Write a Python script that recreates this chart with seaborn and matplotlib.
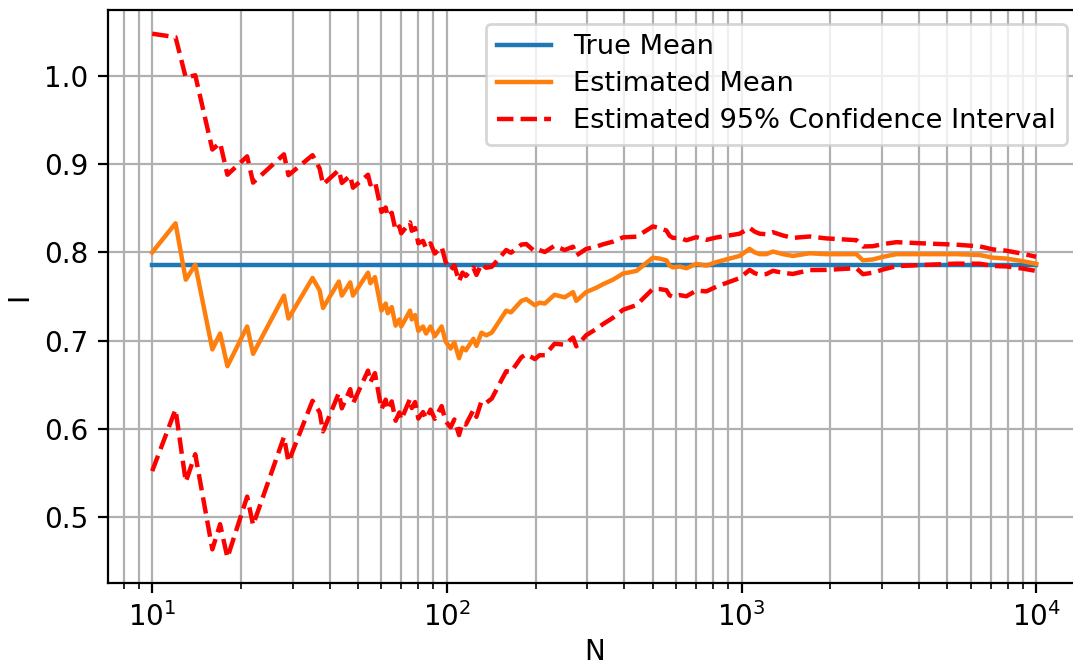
import numpy as np
import pandas as pd
import matplotlib
matplotlib.use("Agg")
import matplotlib.pyplot as plt
import seaborn as sns

# Running Monte Carlo estimate of the mean at selected sample sizes
n_samples = [10, 12, 13, 14, 16, 17, 18, 21, 22, 28, 29, 35, 37, 38, 43, 44, 47, 48,
             54, 55, 57, 60, 62, 63, 65, 67, 69, 70, 75, 76, 78, 80, 83, 85, 88, 91,
             96, 99, 103, 106, 110, 113, 116, 123, 126, 131, 136, 142, 159, 165, 179,
             186, 199, 206, 215, 232, 251, 268, 275, 297, 322, 339, 366, 396, 440, 463,
             500, 527, 556, 570, 585, 617, 650, 702, 760, 821, 911, 985, 1065, 1108,
             1152, 1214, 1278, 1382, 1494, 1703, 1941, 2153, 2453, 2583, 2793, 3020,
             3354, 4129, 5359, 6430, 7135, 7922, 9020, 10000]
est_mean = [0.800, 0.833, 0.769, 0.786, 0.690, 0.708, 0.671, 0.716, 0.685, 0.751,
            0.725, 0.771, 0.757, 0.737, 0.767, 0.751, 0.766, 0.751, 0.777, 0.765,
            0.772, 0.734, 0.742, 0.731, 0.738, 0.717, 0.724, 0.716, 0.734, 0.724,
            0.729, 0.711, 0.716, 0.708, 0.716, 0.705, 0.716, 0.699, 0.691, 0.698,
            0.680, 0.692, 0.689, 0.702, 0.694, 0.709, 0.706, 0.709, 0.734, 0.732,
            0.745, 0.747, 0.740, 0.743, 0.742, 0.752, 0.749, 0.755, 0.745, 0.755,
            0.760, 0.764, 0.769, 0.776, 0.779, 0.785, 0.794, 0.793, 0.791, 0.785,
            0.783, 0.784, 0.782, 0.787, 0.785, 0.789, 0.793, 0.796, 0.804, 0.800,
            0.798, 0.798, 0.801, 0.798, 0.796, 0.799, 0.798, 0.798, 0.798, 0.791,
            0.792, 0.795, 0.798, 0.798, 0.798, 0.797, 0.794, 0.793, 0.790, 0.787]
true_mean = np.pi / 4
z_95 = 1.96

df = pd.DataFrame({"N": n_samples, "mean": est_mean})
df["true"] = true_mean
half_width = z_95 * np.sqrt(df["mean"] * (1 - df["mean"]) / df["N"])
df["upper"] = df["mean"] + half_width
df["lower"] = df["mean"] - half_width

fig = plt.figure(figsize=(1073 / 200, 668 / 200), dpi=200)
ax = fig.add_axes([108 / 1073, 85 / 668, 972.4 / 1073, 573 / 668])

sns.lineplot(data=df, x="N", y="true", ax=ax, color="tab:blue", lw=1.6,
             label="True Mean")
sns.lineplot(data=df, x="N", y="mean", ax=ax, color="tab:orange", lw=1.6,
             label="Estimated Mean")
sns.lineplot(data=df, x="N", y="upper", ax=ax, color="red", lw=1.6,
             linestyle="--", label="Estimated 95% Confidence Interval")
sns.lineplot(data=df, x="N", y="lower", ax=ax, color="red", lw=1.6,
             linestyle="--", label="_nolegend_")

ax.set_xscale("log")
ax.set_xlim(10 ** 0.85, 10 ** 4.15)
ax.set_ylim(0.4252, 1.0748)
ax.set_yticks([0.5, 0.6, 0.7, 0.8, 0.9, 1.0])
ax.grid(True, which="both", color="#b0b0b0", lw=0.8)
ax.set_axisbelow(True)
ax.set_xlabel("N", labelpad=2)
ax.set_ylabel("I")
ax.legend(loc="upper right", fontsize=9.8, labelspacing=0.4)

fig.savefig("out.png", dpi=200)
